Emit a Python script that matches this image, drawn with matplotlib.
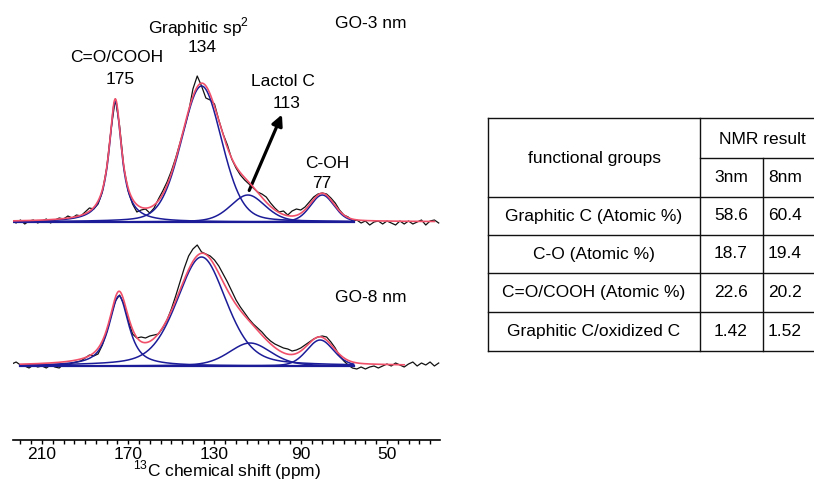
import numpy as np
import matplotlib
matplotlib.use("Agg")
from matplotlib import pyplot as plt
from matplotlib.ticker import MultipleLocator, FixedLocator

plt.rcParams['font.family'] = ['Liberation Sans', 'DejaVu Sans']
plt.rcParams['mathtext.fontset'] = 'custom'
plt.rcParams['mathtext.rm'] = 'Liberation Sans'

# measured 13C spectra, sampled every 2 ppm from 224 down to 26 ppm
shift = np.arange(224, 25, -2)

go3_signal = [1, -1, 2, -2, 1, 2, -1, 1, 3, -1, 2, 4, 3, 6, 4, 7, 6, 10, 14, 13,
              18, 30, 54, 92, 123, 96, 54, 31, 18, 10, 12, 13, 9, 14, 23, 31, 40, 51, 64, 79,
              94, 110, 133, 146, 136, 124, 122, 118, 102, 88, 77, 63, 54, 47, 42, 38, 34, 30, 28, 25,
              19, 14, 10, 11, 7, 11, 13, 12, 15, 20, 25, 28, 29, 28, 24, 19, 12, 7, 5, 1,
              2, -1, 1, -3, 0, 1, -2, 1, -1, -3, 1, -2, 1, -2, 0, 2, -3, 1, 2, -1]

go8_signal = [2, 4, 1, 0, -2, 1, -1, 0, -2, 1, -1, -2, 2, 1, 3, 4, 5, 8, 11, 10,
              12, 21, 34, 50, 65, 71, 62, 46, 32, 28, 29, 28, 30, 31, 32, 38, 46, 57, 70, 84,
              98, 110, 117, 121, 114, 112, 110, 106, 100, 92, 84, 75, 66, 59, 53, 47, 42, 38, 34, 29,
              25, 22, 20, 18, 17, 15, 16, 18, 21, 24, 27, 29, 30, 29, 24, 18, 10, 5, 1, -2,
              -3, -1, -3, -1, 0, -2, 0, 2, 0, 3, 1, -1, 2, 4, 0, 3, 1, 4, 0, 3]

# fitted components: C=O/COOH, graphitic sp2, lactol C, C-OH
go3_center = [176.0, 136.0, 114.5, 80.0]
go3_height = [121, 136, 27, 27]
go3_width = [7.0, 22.0, 19.0, 13.0]
go3_lorentz = [1.0, 0.2, 0.3, 0.2]

go8_center = [174.3, 136.0, 113.5, 81.0]
go8_height = [70, 109, 23, 26]
go8_width = [10.8, 27.0, 23.0, 14.7]
go8_lorentz = [0.8, 0.35, 0.3, 0.2]

table_rows = ['Graphitic C (Atomic %)', 'C-O (Atomic %)',
              'C=O/COOH (Atomic %)', 'Graphitic C/oxidized C']
table_3nm = ['58.6', '18.7', '22.6', '1.42']
table_8nm = ['60.4', '19.4', '20.2', '1.52']

BLACK = '#111111'
BLUE = '#1c1c98'
RED = '#f0506a'
FS = 12.5


def pseudo_voigt(x, c, h, w, eta):
    d = (x - c) / w
    return h * (eta / (1 + 4 * d ** 2) + (1 - eta) * np.exp(-4 * np.log(2) * d ** 2))


def draw_spectrum(ax, signal, centers, heights, widths, etas, offset, comp_lim, fit_lim):
    ax.plot(shift, np.array(signal) + offset, color=BLACK, lw=0.9, zorder=2)
    xc = np.linspace(comp_lim[0], comp_lim[1], 800)
    ax.plot(xc, np.zeros_like(xc) + offset, color=BLUE, lw=1.6, zorder=3)
    for c, h, w, e in zip(centers, heights, widths, etas):
        ax.plot(xc, pseudo_voigt(xc, c, h, w, e) + offset, color=BLUE, lw=1.1, zorder=3)
    xf = np.linspace(fit_lim[0], fit_lim[1], 800)
    total = sum(pseudo_voigt(xf, c, h, w, e) for c, h, w, e in zip(centers, heights, widths, etas))
    ax.plot(xf, total + offset, color=RED, lw=1.2, zorder=4)


fig = plt.figure(figsize=(8.14, 4.83), dpi=100)
ax = fig.add_axes([13 / 814, 43 / 483, 427 / 814, 440 / 483])
ax.set_xlim(223.45, 25.4)
ax.set_ylim(0, 440)

draw_spectrum(ax, go3_signal, go3_center, go3_height, go3_width, go3_lorentz,
              218, (223.4, 65.5), (223.4, 28))
draw_spectrum(ax, go8_signal, go8_center, go8_height, go8_width, go8_lorentz,
              74, (220.0, 65.5), (220.0, 42))

for s in ['top', 'left', 'right']:
    ax.spines[s].set_visible(False)
ax.spines['bottom'].set_linewidth(1.2)
ax.yaxis.set_visible(False)
ax.xaxis.set_major_locator(FixedLocator([210, 170, 130, 90, 50]))
ax.xaxis.set_minor_locator(MultipleLocator(5))
ax.tick_params(axis='x', which='both', direction='out', length=3, width=1,
               labelsize=FS, pad=2)
ax.set_xlabel('$^{13}$C chemical shift (ppm)', fontsize=FS, labelpad=-2.5)

# peak labels
ax.text(175.2, 382, 'C=O/COOH', fontsize=FS, ha='center', va='center')
ax.text(173.8, 361, '175', fontsize=FS, ha='center', va='center')
ax.text(137.6, 413, 'Graphitic sp$^2$', fontsize=FS, ha='center', va='center')
ax.text(135.8, 392, '134', fontsize=FS, ha='center', va='center')
ax.text(98.2, 358, 'Lactol C', fontsize=FS, ha='center', va='center')
ax.text(96.4, 337, '113', fontsize=FS, ha='center', va='center')
ax.text(77.8, 277, 'C-OH', fontsize=FS, ha='center', va='center')
ax.text(80.1, 257, '77', fontsize=FS, ha='center', va='center')
ax.text(57.4, 417, 'GO-3 nm', fontsize=FS, ha='center', va='center')
ax.text(57.4, 143, 'GO-8 nm', fontsize=FS, ha='center', va='center')
ax.annotate('', xy=(98.2, 328), xytext=(114.4, 247),
            arrowprops=dict(arrowstyle='-|>', lw=2.3, color='black', mutation_scale=16))

# result table, drawn in pixel coordinates
tb = fig.add_axes([0, 0, 1, 1])
tb.set_xlim(0, 814)
tb.set_ylim(483, 0)
tb.axis('off')
col_x = [488, 700, 763, 826]
row_y = [118, 197, 235, 273, 312, 351]
lw = 1.0
tb.plot([col_x[0], col_x[-1]], [row_y[0]] * 2, color=BLACK, lw=lw)
tb.plot([col_x[1], col_x[-1]], [158, 158], color=BLACK, lw=lw)
for y in row_y[1:]:
    tb.plot([col_x[0], col_x[-1]], [y, y], color=BLACK, lw=lw)
tb.plot([col_x[0]] * 2, [row_y[0], row_y[-1]], color=BLACK, lw=lw)
tb.plot([col_x[1]] * 2, [row_y[0], row_y[-1]], color=BLACK, lw=lw)
tb.plot([col_x[2]] * 2, [158, row_y[-1]], color=BLACK, lw=lw)
tb.plot([col_x[3]] * 2, [row_y[0], row_y[-1]], color=BLACK, lw=lw)

tb.text(594, 158, 'functional groups', fontsize=FS, ha='center', va='center')
tb.text(762, 139, 'NMR result', fontsize=FS, ha='center', va='center')
tb.text(731, 178, '3nm', fontsize=FS, ha='center', va='center')
tb.text(785, 178, '8nm', fontsize=FS, ha='center', va='center')
for i, name in enumerate(table_rows):
    yc = (row_y[i + 1] + row_y[i + 2]) / 2
    tb.text(594, yc, name, fontsize=FS, ha='center', va='center')
    tb.text(731, yc, table_3nm[i], fontsize=FS, ha='center', va='center')
    tb.text(785, yc, table_8nm[i], fontsize=FS, ha='center', va='center')

fig.savefig('out.png', dpi=100)
